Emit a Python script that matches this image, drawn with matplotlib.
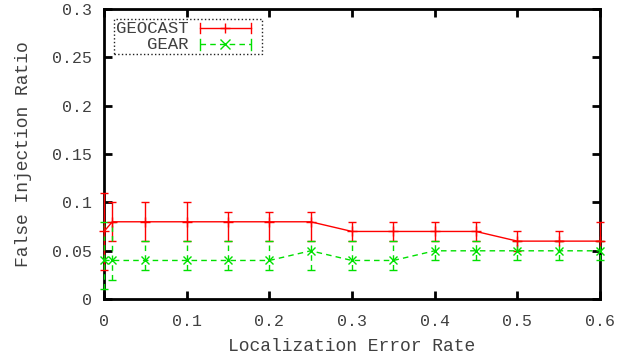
import matplotlib
matplotlib.use('Agg')
import matplotlib.pyplot as plt
from matplotlib.patches import Rectangle
from matplotlib.lines import Line2D

plt.rcParams['font.family'] = ['Liberation Mono', 'DejaVu Sans Mono']

error_rate = [0.0, 0.01, 0.05, 0.10, 0.15, 0.20, 0.25, 0.30, 0.35, 0.40, 0.45, 0.50, 0.55, 0.60]

geocast = [0.07, 0.08, 0.08, 0.08, 0.08, 0.08, 0.08, 0.07, 0.07, 0.07, 0.07, 0.06, 0.06, 0.06]
geocast_low = [0.03, 0.06, 0.06, 0.06, 0.06, 0.06, 0.06, 0.06, 0.06, 0.06, 0.06, 0.05, 0.06, 0.06]
geocast_high = [0.11, 0.10, 0.10, 0.10, 0.09, 0.09, 0.09, 0.08, 0.08, 0.08, 0.08, 0.07, 0.07, 0.08]

gear = [0.04, 0.04, 0.04, 0.04, 0.04, 0.04, 0.05, 0.04, 0.04, 0.05, 0.05, 0.05, 0.05, 0.05]
gear_low = [0.01, 0.02, 0.03, 0.03, 0.03, 0.03, 0.03, 0.03, 0.03, 0.04, 0.04, 0.04, 0.04, 0.04]
gear_high = [0.08, 0.08, 0.06, 0.06, 0.06, 0.06, 0.06, 0.06, 0.06, 0.06, 0.06, 0.06, 0.06, 0.06]

x_ticks = [0, 0.1, 0.2, 0.3, 0.4, 0.5, 0.6]
x_tick_labels = ['0', '0.1', '0.2', '0.3', '0.4', '0.5', '0.6']
y_ticks = [0, 0.05, 0.1, 0.15, 0.2, 0.25, 0.3]
y_tick_labels = ['0', '0.05', '0.1', '0.15', '0.2', '0.25', '0.3']

RED = '#ff0000'
GREEN = '#00e000'
TEXT = '#404040'

fig = plt.figure(figsize=(6.23, 3.6), dpi=100)
ax = fig.add_axes([0.167, 0.169, 0.796, 0.806])


def err(vals, lo, hi):
    return [[v - l for v, l in zip(vals, lo)], [h - v for v, h in zip(vals, hi)]]


ax.errorbar(error_rate, geocast, yerr=err(geocast, geocast_low, geocast_high),
            color=RED, lw=1.0, elinewidth=1.0, capsize=3, capthick=1.0,
            marker='+', ms=7, mew=1.0, clip_on=False, zorder=3)
ax.errorbar(error_rate, gear, yerr=err(gear, gear_low, gear_high),
            color=GREEN, lw=1.0, ls=(0, (4, 3)), elinewidth=1.0, capsize=3, capthick=1.0,
            marker='x', ms=6, mew=1.0, clip_on=False, zorder=3)
# dashed error bars for GEAR
for c in ax.containers[1:]:
    for coll in c.lines[2]:
        coll.set_linestyle((0, (4, 3)))

ax.set_xlim(0, 0.6)
ax.set_ylim(0, 0.3)
ax.set_xticks(x_ticks)
ax.set_xticklabels(x_tick_labels)
ax.set_yticks(y_ticks)
ax.set_yticklabels(y_tick_labels)
ax.tick_params(direction='in', length=6, width=2, top=True, right=True,
               labelsize=12, labelcolor=TEXT)
ax.tick_params(axis='x', pad=11)
ax.tick_params(axis='y', pad=9)
for s in ax.spines.values():
    s.set_linewidth(2)

ax.set_xlabel('Localization Error Rate', fontsize=13, color=TEXT, labelpad=6)
ax.set_ylabel('False Injection Ratio', fontsize=13, color=TEXT, labelpad=14)

# key box in the top-left corner
ax.add_patch(Rectangle((0.020, 0.845), 0.299, 0.121, transform=ax.transAxes,
                       fill=False, ls=':', lw=1.0, ec='#202020', zorder=5))
keys = [('GEOCAST', RED, '-', '+', 0.934), ('GEAR', GREEN, (0, (4, 3)), 'x', 0.878)]
for label, col, ls, mk, yk in keys:
    ax.text(0.170, yk, label, transform=ax.transAxes, ha='right', va='center',
            fontsize=12.5, color=TEXT)
    x0, x1 = 0.193, 0.296
    ax.add_line(Line2D([x0, x1], [yk, yk], transform=ax.transAxes, color=col, lw=1.0, ls=ls))
    for xe in (x0, x1):
        ax.add_line(Line2D([xe, xe], [yk - 0.018, yk + 0.018], transform=ax.transAxes,
                           color=col, lw=1.0))
    ax.add_line(Line2D([(x0 + x1) / 2], [yk], transform=ax.transAxes, color=col,
                       marker=mk, ms=7, mew=1.0))

fig.savefig('out.png', dpi=100)
